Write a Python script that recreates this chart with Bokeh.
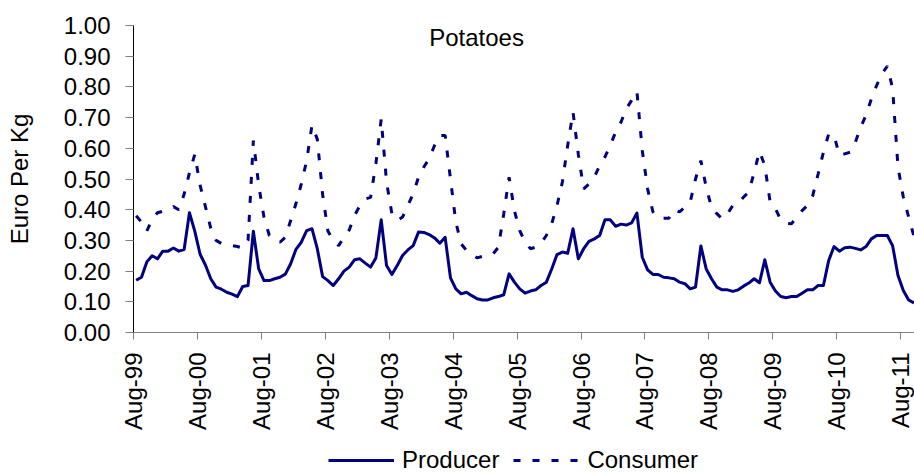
import math
from bokeh.plotting import figure
from bokeh.layouts import column
from bokeh.models import (FixedTicker, Legend, LegendItem, Label, Range1d,
                          NumeralTickFormatter)
from bokeh.embed import file_html
from bokeh.resources import INLINE

FONT = "Liberation Sans"

tick_labels = ["Aug-99", "Aug-00", "Aug-01", "Aug-02", "Aug-03", "Aug-04", "Aug-05",
               "Aug-06", "Aug-07", "Aug-08", "Aug-09", "Aug-10", "Aug-11"]

# Monthly prices, Aug-99 onwards (Euro per kg)
producer = [
    0.17, 0.18, 0.23, 0.25, 0.24, 0.265, 0.265, 0.275, 0.265, 0.27, 0.39, 0.33,
    0.255, 0.22, 0.175, 0.148, 0.141, 0.131, 0.125, 0.117, 0.15, 0.153, 0.33, 0.207,
    0.169, 0.169, 0.175, 0.18, 0.19, 0.224, 0.271, 0.294, 0.332, 0.338, 0.273, 0.182,
    0.169, 0.153, 0.175, 0.2, 0.213, 0.237, 0.24, 0.226, 0.213, 0.243, 0.367, 0.218,
    0.189, 0.218, 0.251, 0.269, 0.283, 0.327, 0.326, 0.319, 0.308, 0.291, 0.31, 0.178,
    0.142, 0.126, 0.131, 0.12, 0.11, 0.106, 0.106, 0.113, 0.117, 0.123, 0.191, 0.164,
    0.142, 0.128, 0.135, 0.139, 0.153, 0.164, 0.207, 0.254, 0.262, 0.258, 0.338, 0.24,
    0.273, 0.297, 0.305, 0.316, 0.367, 0.367, 0.346, 0.353, 0.35, 0.357, 0.389, 0.245,
    0.204, 0.189, 0.189, 0.18, 0.178, 0.175, 0.164, 0.159, 0.142, 0.148, 0.282, 0.207,
    0.175, 0.148, 0.139, 0.139, 0.134, 0.139, 0.151, 0.161, 0.175, 0.162, 0.237, 0.164,
    0.135, 0.117, 0.113, 0.117, 0.117, 0.128, 0.139, 0.139, 0.153, 0.153, 0.235, 0.28,
    0.265, 0.276, 0.278, 0.274, 0.269, 0.28, 0.305, 0.316, 0.316, 0.316, 0.282, 0.186,
    0.137, 0.106, 0.096,
]

consumer = [
    0.38, 0.36, 0.33, 0.37, 0.39, 0.395, 0.40, 0.41, 0.40, 0.45, 0.52, 0.58,
    0.48, 0.41, 0.34, 0.30, 0.29, 0.287, 0.283, 0.28, 0.275, 0.30, 0.625, 0.48,
    0.375, 0.316, 0.305, 0.294, 0.31, 0.365, 0.42, 0.484, 0.56, 0.675, 0.63, 0.45,
    0.33, 0.30, 0.283, 0.31, 0.334, 0.381, 0.414, 0.435, 0.44, 0.55, 0.695, 0.49,
    0.387, 0.365, 0.376, 0.414, 0.452, 0.506, 0.539, 0.566, 0.609, 0.642, 0.642, 0.50,
    0.36, 0.289, 0.267, 0.256, 0.243, 0.248, 0.251, 0.256, 0.278, 0.387, 0.506, 0.397,
    0.332, 0.295, 0.273, 0.278, 0.291, 0.316, 0.354, 0.414, 0.49, 0.609, 0.718, 0.58,
    0.468, 0.484, 0.506, 0.544, 0.572, 0.61, 0.653, 0.685, 0.729, 0.756, 0.785, 0.593,
    0.468, 0.393, 0.374, 0.372, 0.372, 0.40, 0.393, 0.408, 0.425, 0.50, 0.56, 0.473,
    0.408, 0.387, 0.37, 0.387, 0.414, 0.421, 0.441, 0.457, 0.522, 0.59, 0.544, 0.425,
    0.403, 0.367, 0.356, 0.354, 0.376, 0.397, 0.414, 0.446, 0.516, 0.587, 0.647, 0.642,
    0.577, 0.582, 0.587, 0.62, 0.669, 0.707, 0.761, 0.805, 0.843, 0.868, 0.794, 0.539,
    0.441, 0.376, 0.313,
]

y_ticks = [k / 10 for k in range(11)]

# category centres (months) between yearly tick boundaries
months = [i + 0.5 for i in range(len(producer))]
tick_positions = [12 * k for k in range(len(tick_labels))]

NAVY = "#000080"
DASH = "7 12"

p = figure(width=914, height=438, output_backend="svg", toolbar_location=None,
           x_range=Range1d(0, 146.6), y_range=Range1d(0, 1.0),
           min_border_left=133, min_border_right=0, min_border_top=25,
           min_border_bottom=106)
p.outline_line_color = None
p.grid.visible = False
p.background_fill_color = "white"
p.border_fill_color = "white"

p.line(months, producer, line_color=NAVY, line_width=3, line_join="round")
p.line(months, consumer, line_color=NAVY, line_width=3, line_dash=DASH)

# axes
xa = p.xaxis[0]
xa.ticker = FixedTicker(ticks=tick_positions)
xa.major_label_overrides = {pos: lab for pos, lab in zip(tick_positions, tick_labels)}
xa.major_label_orientation = math.pi / 2
xa.minor_tick_line_color = None
xa.major_tick_in = 0
xa.major_tick_out = 7
xa.major_label_standoff = 13
xa.axis_line_color = "#808080"
xa.major_tick_line_color = "#808080"
xa.major_label_text_font = FONT
xa.major_label_text_font_size = "24px"
xa.major_label_text_color = "black"

ya = p.yaxis[0]
ya.ticker = FixedTicker(ticks=y_ticks)
ya.formatter = NumeralTickFormatter(format="0.00")
ya.minor_tick_line_color = None
ya.major_tick_in = 0
ya.major_tick_out = 8
ya.major_label_standoff = 15
ya.axis_line_color = "black"
ya.major_tick_line_color = "#808080"
ya.major_label_text_font = FONT
ya.major_label_text_font_size = "24px"
ya.major_label_text_color = "black"
ya.axis_label = "Euro Per Kg"
ya.axis_label_text_font = FONT
ya.axis_label_text_font_size = "24px"
ya.axis_label_text_font_style = "normal"
ya.axis_label_text_color = "black"
ya.axis_label_standoff = 28

# chart title placed inside the plot area
title = Label(x=64.4, y=0.96, text="Potatoes", text_font=FONT,
              text_font_size="24px", text_align="center",
              text_baseline="alphabetic", text_color="black")
p.add_layout(title)

# legend strip below the chart (its lines use the same series, kept out of view)
q = figure(width=914, height=36, output_backend="svg", toolbar_location=None,
           x_range=Range1d(-20, -10), y_range=Range1d(0, 1),
           x_axis_location=None, y_axis_location=None,
           min_border=0, min_border_left=0, min_border_right=0,
           min_border_top=0, min_border_bottom=0)
q.outline_line_color = None
q.grid.visible = False
q.border_fill_color = "white"
l1 = q.line(months, producer, line_color=NAVY, line_width=3)
l2 = q.line(months, consumer, line_color=NAVY, line_width=3, line_dash=DASH)

legend = Legend(items=[LegendItem(label="Producer", renderers=[l1]),
                       LegendItem(label="Consumer", renderers=[l2])],
                orientation="horizontal", location=(195, 0),
                glyph_width=66, glyph_height=20, label_height=20,
                label_standoff=8, spacing=14, padding=0, margin=0,
                border_line_alpha=0, background_fill_alpha=0,
                label_text_font=FONT, label_text_font_size="24px",
                label_text_color="black")
q.add_layout(legend)

layout = column(p, q, spacing=0)
open("out.html", "w").write(file_html(layout, INLINE))
